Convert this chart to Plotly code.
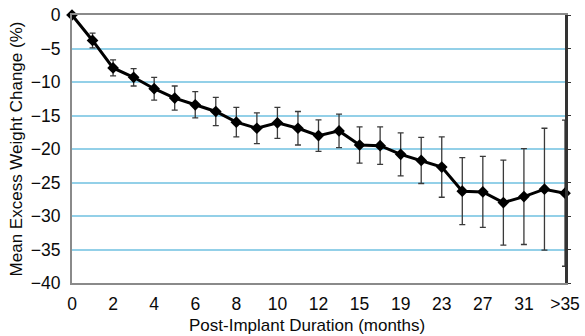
import plotly.graph_objects as go

# Post-implant month categories (evenly spaced on the axis)
months = ["0", "1", "2", "3", "4", "5", "6", "7", "8", "9", "10", "11", "12", "13",
          "15", "17", "19", "21", "23", "25", "27", "29", "31", "33", ">35"]

# Mean excess weight change (%) and its error (+/-)
mean_change = [0.0, -3.8, -7.9, -9.3, -11.0, -12.4, -13.4, -14.4, -16.0, -16.9,
               -16.1, -16.9, -18.0, -17.3, -19.4, -19.5, -20.8, -21.7, -22.7,
               -26.3, -26.4, -28.0, -27.1, -26.0, -26.6]
err_change = [0.0, 1.1, 1.2, 1.3, 1.7, 1.8, 1.95, 2.1, 2.2, 2.3, 2.3, 2.5, 2.35,
              2.5, 2.7, 2.8, 3.2, 3.45, 4.5, 5.0, 5.3, 6.35, 7.15, 9.1, 10.9]

# Labelled ticks: every other month category
tick_months = months[::2]

FONT = "Arial, Liberation Sans, sans-serif"
GRID = "#93d0e8"
TXT = "#0a0a0a"

fig = go.Figure()
fig.add_trace(go.Scatter(
    x=months, y=mean_change,
    mode="lines+markers",
    line=dict(color="black", width=3),
    marker=dict(symbol="diamond", size=9, color="black"),
    error_y=dict(type="data", array=err_change, visible=True,
                 color="#3a3a3a", thickness=1.3, width=3),
    cliponaxis=False,
    showlegend=False,
))
# empty trace that carries the right-hand axis
fig.add_trace(go.Scatter(x=[months[0]], y=[None], yaxis="y2",
                         showlegend=False, hoverinfo="skip"))

fig.update_layout(
    width=585, height=336,
    margin=dict(l=72, r=20, t=14.5, b=53),
    paper_bgcolor="white", plot_bgcolor="white",
    font=dict(family=FONT, color=TXT),
    xaxis=dict(
        type="category", categoryorder="array", categoryarray=months,
        range=[0, 24],
        tickmode="array", tickvals=tick_months, ticktext=tick_months,
        tickfont=dict(size=17.5, family=FONT, color=TXT),
        ticks="", ticklabelstandoff=4,
        showgrid=False, zeroline=False,
        showline=True, linecolor="#8a8a8a", linewidth=2, mirror=True,
        automargin=False,
    ),
    yaxis=dict(
        range=[-40, 0], dtick=5, tick0=0,
        tickfont=dict(size=17.5, family=FONT, color=TXT),
        ticks="", ticklabelstandoff=6,
        showgrid=True, gridcolor=GRID, gridwidth=2,
        zeroline=False,
        showline=True, linecolor="#8a8a8a", linewidth=2,
        title=dict(text="Mean Excess Weight Change (%)",
                   font=dict(size=17, family=FONT, color=TXT), standoff=4),
        automargin=False,
    ),
    yaxis2=dict(
        overlaying="y", side="right", range=[-40, 0], dtick=5, tick0=0,
        showticklabels=False, showgrid=False, zeroline=False,
        showline=True, linecolor="#333", linewidth=2.5,
        ticks="outside", ticklen=3, tickcolor="#333", tickwidth=1,
    ),
    annotations=[
        dict(text="Post-Implant Duration (months)",
             xref="paper", yref="paper", x=(307 - 72) / 493, y=-0.158,
             xanchor="center", yanchor="middle", showarrow=False,
             font=dict(size=17, family=FONT, color=TXT)),
    ],
)

fig.write_html("out.html")
